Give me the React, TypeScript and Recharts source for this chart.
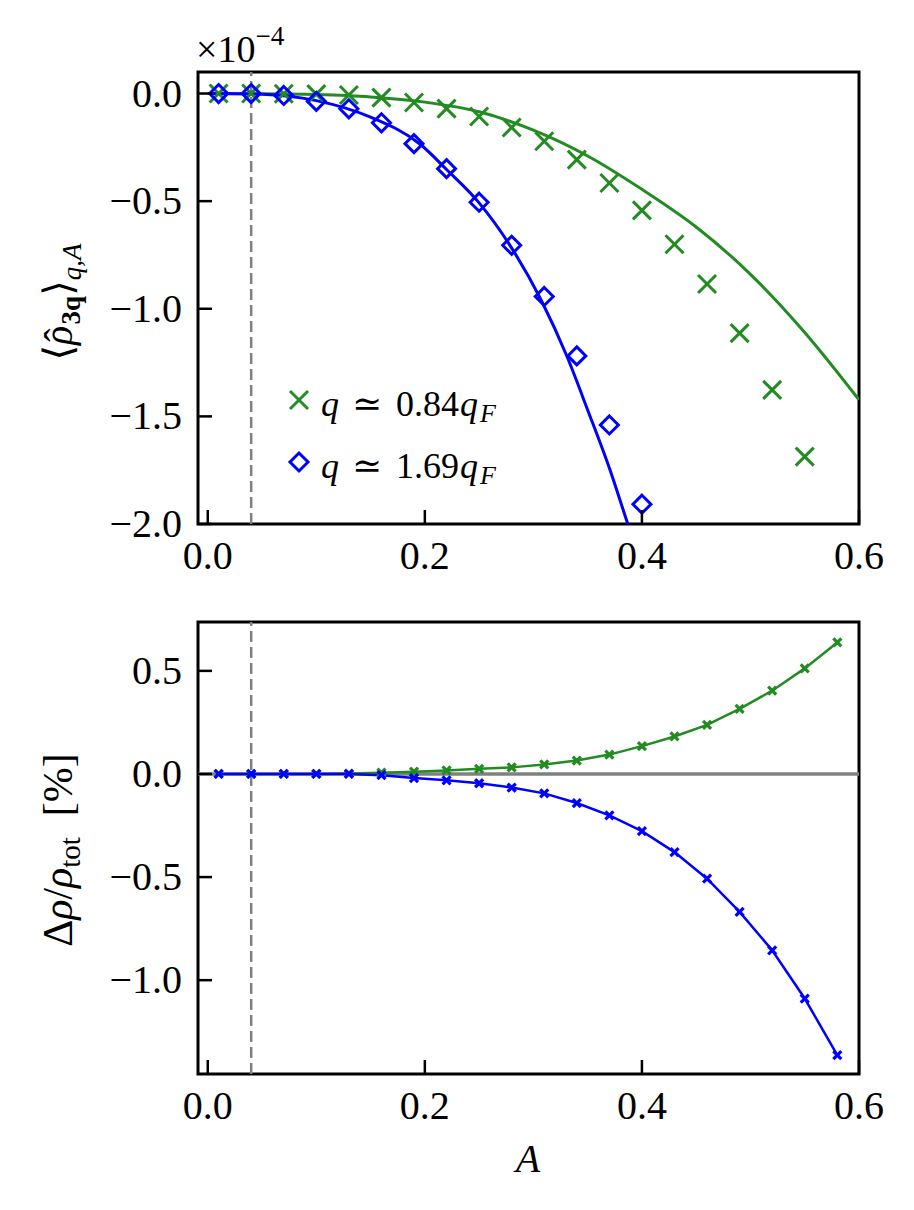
import React from "react";
import { ComposedChart, Line, Scatter, XAxis, YAxis, ReferenceLine, ReferenceArea } from "recharts";

const FONT = "'Liberation Serif', 'DejaVu Serif', serif";
const GREEN = "#228b22";
const BLUE = "#0000ff";
const GRAY = "#808080";

// top panel: <rho_3q>, units of 1e-4
const aGreenTop = [0.01, 0.04, 0.07, 0.1, 0.13, 0.16, 0.19, 0.22, 0.25, 0.28, 0.31, 0.34, 0.37, 0.4, 0.43, 0.46, 0.49, 0.52, 0.55];
const greenTop = [0, 0, -0.001, -0.003, -0.007, -0.019, -0.042, -0.07, -0.107, -0.158, -0.222, -0.307, -0.416, -0.543, -0.7, -0.885, -1.113, -1.377, -1.687];
const aBlueTop = [0.01, 0.04, 0.07, 0.1, 0.13, 0.16, 0.19, 0.22, 0.25, 0.28, 0.31, 0.34, 0.37, 0.4];
const blueTop = [0, 0, -0.009, -0.036, -0.071, -0.136, -0.233, -0.349, -0.505, -0.705, -0.943, -1.219, -1.54, -1.908];

// fitted curves
const aGreenFit = [0, 0.05, 0.1, 0.15, 0.2, 0.25, 0.3, 0.35, 0.4, 0.45, 0.5, 0.55, 0.6];
const greenFit = [0, -0.001, -0.005, -0.016, -0.04, -0.085, -0.17, -0.29, -0.445, -0.62, -0.84, -1.11, -1.423];
const aBlueFit = [0, 0.05, 0.1, 0.15, 0.196, 0.22, 0.25, 0.279, 0.307, 0.331, 0.35, 0.37, 0.387, 0.395];
const blueFit = [0, -0.003, -0.033, -0.11, -0.237, -0.353, -0.508, -0.71, -0.958, -1.222, -1.47, -1.74, -2.0, -2.12];

// bottom panel: delta rho / rho_tot in %
const aBottom = [0.01, 0.04, 0.07, 0.1, 0.13, 0.16, 0.19, 0.22, 0.25, 0.28, 0.31, 0.34, 0.37, 0.4, 0.43, 0.46, 0.49, 0.52, 0.55, 0.58];
const greenBottom = [0, 0, 0, 0, 0.002, 0.006, 0.011, 0.017, 0.025, 0.032, 0.046, 0.065, 0.094, 0.135, 0.182, 0.238, 0.316, 0.404, 0.512, 0.638];
const blueBottom = [0, 0, 0, 0, 0, -0.006, -0.02, -0.031, -0.045, -0.066, -0.094, -0.141, -0.201, -0.277, -0.379, -0.508, -0.669, -0.855, -1.089, -1.363];

const xTicks = [0, 0.2, 0.4, 0.6];
const topYTicks = [0, -0.5, -1, -1.5, -2];
const bottomYTicks = [0.5, 0, -0.5, -1];
const cutoffA = 0.04;
const legendLabels = ["0.84", "1.69"];

const xDomain = [-0.009, 0.6];
const topDomain = [-2, 0.1];
const bottomDomain = [-1.455, 0.737];

const pts = (xs: number[], ys: number[]) => xs.map((x, i) => ({ x, y: ys[i] }));

const fmtTick = (v: number) => {
  const s = Math.abs(v).toFixed(1);
  return v < -1e-9 ? "\u2212" + s : s;
};

const XTick = (props: any) => {
  const { x, y, payload } = props;
  return (
    <g>
      <line x1={x} x2={x} y1={y} y2={y - 14} stroke="#000" strokeWidth={2.5} />
      <text x={x} y={y + 45} textAnchor="middle" fontFamily={FONT} fontSize={40} fill="#000">
        {fmtTick(payload.value)}
      </text>
    </g>
  );
};

const YTick = (props: any) => {
  const { x, y, payload } = props;
  return (
    <g>
      <line x1={x} x2={x + 14} y1={y} y2={y} stroke="#000" strokeWidth={2.5} />
      <text x={x - 16} y={y + 13} textAnchor="end" fontFamily={FONT} fontSize={40} fill="#000">
        {fmtTick(payload.value)}
      </text>
    </g>
  );
};

const Cross = ({ cx, cy, r, color, w }: any) => (
  <g stroke={color} strokeWidth={w} fill="none">
    <line x1={cx - r} y1={cy - r} x2={cx + r} y2={cy + r} />
    <line x1={cx - r} y1={cy + r} x2={cx + r} y2={cy - r} />
  </g>
);

const Diamond = ({ cx, cy, r, color, w }: any) => (
  <polygon
    points={`${cx},${cy - r} ${cx + r},${cy} ${cx},${cy + r} ${cx - r},${cy}`}
    fill="none"
    stroke={color}
    strokeWidth={w}
  />
);

const LegendText = ({ y, value }: { y: number; value: string }) => (
  <text y={y} fontFamily={FONT} fontSize={36} fill="#000">
    <tspan x={321} fontStyle="italic">q</tspan>
    <tspan x={352}>≃</tspan>
    <tspan x={396}>{value}</tspan>
    <tspan x={460} fontStyle="italic">q</tspan>
    <tspan x={480} fontStyle="italic" fontSize={26} dy={6}>F</tspan>
  </text>
);

const TopYLabel = () => (
  <text
    x={72}
    y={302}
    transform="rotate(-90 72 302)"
    textAnchor="middle"
    fontFamily={FONT}
    fontSize={40}
    fill="#000"
  >
    ⟨<tspan fontStyle="italic">ρ</tspan>
    <tspan dx={-16}>ˆ</tspan>
    <tspan fontSize={27} fontWeight="bold" dx={4} dy={8}>3q</tspan>
    <tspan dy={-8}>⟩</tspan>
    <tspan fontSize={27} fontStyle="italic" dy={9}>q,A</tspan>
  </text>
);

const BottomYLabel = () => (
  <text
    x={72}
    y={250}
    transform="rotate(-90 72 250)"
    textAnchor="middle"
    fontFamily={FONT}
    fontSize={42}
    fill="#000"
  >
    Δ<tspan fontStyle="italic">ρ</tspan>/<tspan fontStyle="italic">ρ</tspan>
    <tspan fontSize={29} dy={8}>tot</tspan>
    <tspan dy={-8}>{"\u00a0\u00a0[%]"}</tspan>
  </text>
);

const XLabel = () => (
  <text x={528} y={572} textAnchor="middle" fontFamily={FONT} fontSize={40} fontStyle="italic" fill="#000">
    A
  </text>
);

export default function App() {
  return (
    <div style={{ position: "absolute", left: 0, top: 0, width: 914, height: 1210, background: "#fff" }}>
      <div style={{ position: "absolute", left: 0, top: 0 }}>
        <ComposedChart width={914} height={600} margin={{ top: 72, right: 55, left: 0, bottom: 0 }}>
          <XAxis
            dataKey="x"
            type="number"
            domain={xDomain}
            allowDataOverflow
            ticks={xTicks}
            interval={0}
            height={76}
            tickSize={0}
            tickMargin={0}
            axisLine={false}
            tickLine={false}
            tick={<XTick />}
          />
          <YAxis
            dataKey="y"
            type="number"
            domain={topDomain}
            allowDataOverflow
            ticks={topYTicks}
            interval={0}
            width={198}
            tickSize={0}
            tickMargin={0}
            axisLine={false}
            tickLine={false}
            tick={<YTick />}
            label={{ content: <TopYLabel /> }}
          />
          <ReferenceLine x={cutoffA} stroke={GRAY} strokeWidth={2.5} strokeDasharray="11 5" />
          <Line
            data={pts(aGreenFit, greenFit)}
            dataKey="y"
            type="monotone"
            stroke={GREEN}
            strokeWidth={3}
            dot={false}
            activeDot={false}
            isAnimationActive={false}
          />
          <Line
            data={pts(aBlueFit, blueFit)}
            dataKey="y"
            type="monotone"
            stroke={BLUE}
            strokeWidth={3}
            dot={false}
            activeDot={false}
            isAnimationActive={false}
          />
          <Scatter
            data={pts(aGreenTop, greenTop)}
            dataKey="y"
            isAnimationActive={false}
            shape={(p: any) => <Cross cx={p.cx} cy={p.cy} r={9} color={GREEN} w={3} />}
          />
          <Scatter
            data={pts(aBlueTop, blueTop)}
            dataKey="y"
            isAnimationActive={false}
            shape={(p: any) => <Diamond cx={p.cx} cy={p.cy} r={9} color={BLUE} w={3} />}
          />
          <ReferenceArea
            x1={xDomain[0]}
            x2={xDomain[1]}
            y1={topDomain[0]}
            y2={topDomain[1]}
            fill="none"
            fillOpacity={0}
            stroke="#000"
            strokeWidth={3}
          />
          <g>
            <Cross cx={299} cy={400} r={9} color={GREEN} w={3} />
            <LegendText y={416} value={legendLabels[0]} />
            <Diamond cx={299} cy={462} r={9} color={BLUE} w={3} />
            <LegendText y={478} value={legendLabels[1]} />
            <text x={196} y={62} fontFamily={FONT} fontSize={38} fill="#000">
              ×10<tspan fontSize={27} dy={-17}>−4</tspan>
            </text>
          </g>
        </ComposedChart>
      </div>

      <div style={{ position: "absolute", left: 0, top: 600 }}>
        <ComposedChart width={914} height={610} margin={{ top: 22, right: 55, left: 0, bottom: 0 }}>
          <XAxis
            dataKey="x"
            type="number"
            domain={xDomain}
            allowDataOverflow
            ticks={xTicks}
            interval={0}
            height={136}
            tickSize={0}
            tickMargin={0}
            axisLine={false}
            tickLine={false}
            tick={<XTick />}
            label={{ content: <XLabel /> }}
          />
          <YAxis
            dataKey="y"
            type="number"
            domain={bottomDomain}
            allowDataOverflow
            ticks={bottomYTicks}
            interval={0}
            width={198}
            tickSize={0}
            tickMargin={0}
            axisLine={false}
            tickLine={false}
            tick={<YTick />}
            label={{ content: <BottomYLabel /> }}
          />
          <ReferenceLine x={cutoffA} stroke={GRAY} strokeWidth={2.5} strokeDasharray="11 5" />
          <ReferenceLine y={0} stroke={GRAY} strokeWidth={3.5} />
          <Line
            data={pts(aBottom, greenBottom)}
            dataKey="y"
            type="linear"
            stroke={GREEN}
            strokeWidth={2.5}
            dot={(p: any) => <Cross key={p.index} cx={p.cx} cy={p.cy} r={4} color={GREEN} w={3.2} />}
            activeDot={false}
            isAnimationActive={false}
          />
          <Line
            data={pts(aBottom, blueBottom)}
            dataKey="y"
            type="linear"
            stroke={BLUE}
            strokeWidth={2.5}
            dot={(p: any) => <Cross key={p.index} cx={p.cx} cy={p.cy} r={4} color={BLUE} w={3.2} />}
            activeDot={false}
            isAnimationActive={false}
          />
          <ReferenceArea
            x1={xDomain[0]}
            x2={xDomain[1]}
            y1={bottomDomain[0]}
            y2={bottomDomain[1]}
            fill="none"
            fillOpacity={0}
            stroke="#000"
            strokeWidth={3}
          />
        </ComposedChart>
      </div>
    </div>
  );
}
